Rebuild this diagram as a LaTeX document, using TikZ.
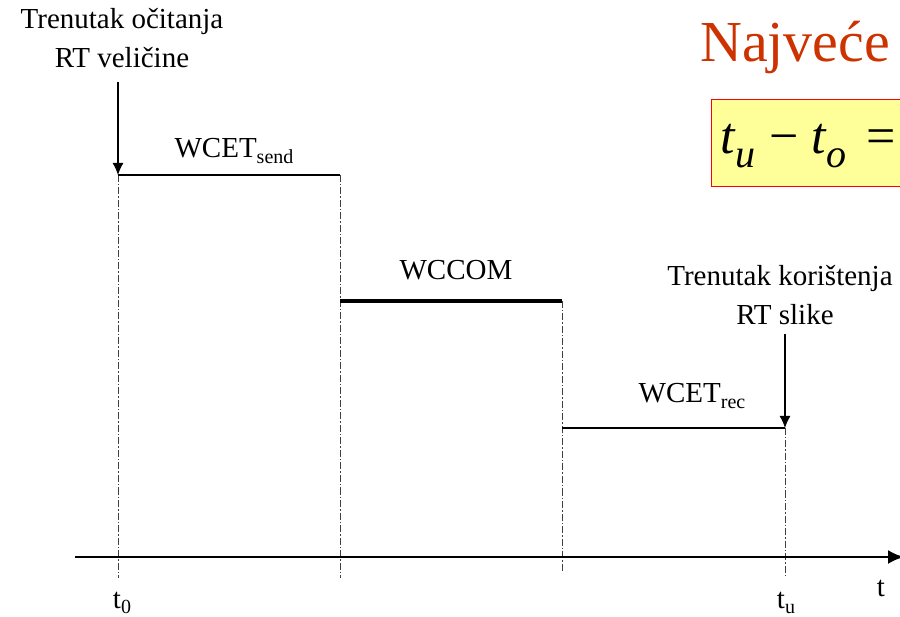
\documentclass[tikz,border=0pt]{standalone}
\usepackage{fontspec}
\setmainfont{Liberation Serif}
\usetikzlibrary{arrows.meta}

\newcommand{\lowsub}[1]{\raisebox{-0.4ex}{\fontsize{20}{20}\selectfont #1}}

\begin{document}
\begin{tikzpicture}[
    x=1pt, y=-1pt,
    >={Latex[length=12pt,width=11pt]},
    label/.style={font=\fontsize{29}{34}\selectfont, align=center, inner sep=1pt},
    phase/.style={line width=1.6pt},
    guide/.style={line width=0.9pt, dash pattern=on 7pt off 2pt on 1.5pt off 2pt, black!75},
    marker/.style={->, line width=1.2pt}
]
\useasboundingbox (0,0) rectangle (900,617);
\clip (0,0) rectangle (900,617);

% -------------------------
% Points on the time line
% -------------------------
\coordinate (s0) at (118,175);
\coordinate (s1) at (340,175);
\coordinate (c0) at (340,301);
\coordinate (c1) at (562,301);
\coordinate (r0) at (562,428);
\coordinate (r1) at (785,428);

\coordinate (g0) at (118,578);
\coordinate (g1) at (340,578);
\coordinate (g2) at (562,572);
\coordinate (g3) at (785,576);

\coordinate (axL) at (75,557);
\coordinate (axR) at (904,557);

% -------------------------
% Text labels
% -------------------------
\node[label] (readA) at (122,22) {Trenutak očitanja};
\node[label] (readB) at (122,58) {RT veličine};
\coordinate (readTip) at (118,82);

\node[label] (useA) at (780,279) {Trenutak korištenja};
\node[label] (useB) at (785,315) {RT slike};
\coordinate (useTip) at (785,334);

\node[label] (send) at (234,151) {WCET\lowsub{send}};
\node[label] (com) at (456,270) {WCCOM};
\node[label] (rec) at (692,396) {WCET\lowsub{rec}};

\node[label] (tzero) at (122,603) {t\lowsub{0}};
\node[label] (tu) at (786,603) {t\lowsub{u}};
\node[label] (tt) at (881,588) {t};

% -------------------------
% Title and formula (cut off at the right)
% -------------------------
\node[font=\fontsize{58}{64}\selectfont, text={rgb,255:red,204;green,51;blue,0}, anchor=west, inner sep=0pt]
    (title) at (700,48) {Najveće};
\node[draw=red, line width=1.2pt, fill={rgb,255:red,255;green,255;blue,153}, anchor=west,
      minimum height=87pt, minimum width=200pt, inner sep=0pt]
    (box) at (711,143) {};
\node[font=\fontsize{52}{56}\selectfont, anchor=west, inner sep=0pt]
    (formula) at (720,146) {\textit{t}\raisebox{-0.6ex}{\fontsize{40}{40}\selectfont\textit{u}}\hspace{14pt}−\hspace{12pt}\textit{t}\raisebox{-0.6ex}{\fontsize{40}{40}\selectfont\textit{o}}\hspace{20pt}=};

% -------------------------
% Phases and guides
% -------------------------
\draw[guide] (s0) -- (g0);
\draw[guide] (s1) -- (g1);
\draw[guide] (c1) -- (g2);
\draw[guide] (r1) -- (g3);

\draw[phase] (s0) -- (s1);
\draw[phase, line width=3.5pt] (c0) -- (c1);
\draw[phase] (r0) -- (r1);

% time axis
\draw[->, line width=2.4pt, >={Latex[length=16pt,width=14pt]}] (axL) -- (axR);

% read / use instants
\draw[marker] (readTip) -- (s0);
\draw[marker] (useTip) -- (r1);

\end{tikzpicture}
\end{document}
